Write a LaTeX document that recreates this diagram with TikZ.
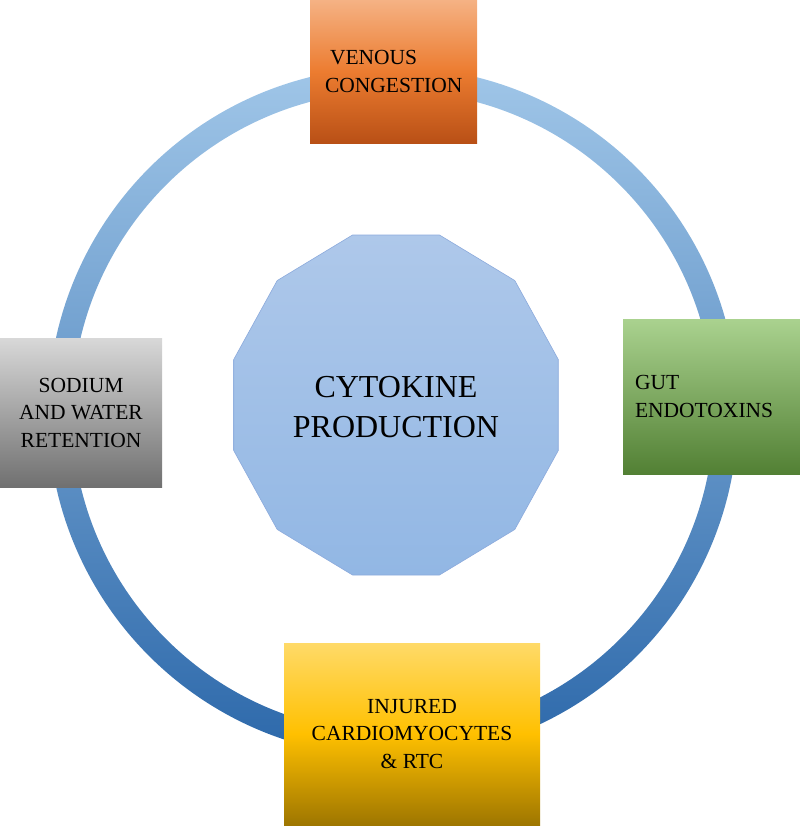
\documentclass[tikz,border=0pt]{standalone}
\usepackage{fontspec}
\setmainfont{Liberation Serif}
\definecolor{ringtop}{RGB}{160,198,232}
\definecolor{ringbot}{RGB}{44,104,170}
\definecolor{polytop}{RGB}{174,200,234}
\definecolor{polybot}{RGB}{146,183,228}
\definecolor{polyline}{RGB}{140,170,220}
\begin{document}
\begin{tikzpicture}[x=1pt,y=-1pt,
  box/.style={rectangle,inner sep=0pt,font=\fontsize{21.5}{27.5}\selectfont},
  core/.style={font=\fontsize{32}{40}\selectfont,align=center}]
\useasboundingbox (0,0) rectangle (800,828);
\shade[top color=ringtop,bottom color=ringbot,even odd rule]
  (393,412) circle[radius=345pt] (393,412) circle[radius=321pt];
\shade[top color=polytop,bottom color=polybot,draw=polyline,line width=0.6pt]
  plot[samples at={15,45,...,345}] ({396+168*cos(\x)},{405+176*sin(\x)}) -- cycle;
\node[core] (cytokine) at (396,407) {CYTOKINE\\PRODUCTION};
\node[box,minimum width=167pt,minimum height=143pt,text width=137pt,align=left,
  top color={rgb,255:red,245;green,178;blue,132},bottom color={rgb,255:red,185;green,80;blue,22},
  middle color={rgb,255:red,236;green,124;blue,48}] (venous) at (393.5,71.5)
  {\hspace*{5pt}VENOUS\\CONGESTION};
\node[box,minimum width=162pt,minimum height=149pt,align=center,
  top color={rgb,255:red,216;green,216;blue,216},bottom color={rgb,255:red,112;green,112;blue,112}] (sodium) at (81,412.5)
  {SODIUM\\AND WATER\\RETENTION};
\node[box,minimum width=177pt,minimum height=155pt,text width=153pt,align=left,
  top color={rgb,255:red,170;green,210;blue,143},bottom color={rgb,255:red,82;green,128;blue,52}] (gut) at (711.5,396.5)
  {GUT\\ENDOTOXINS};
\node[box,minimum width=256pt,minimum height=182pt,align=center,
  top color={rgb,255:red,255;green,218;blue,104},bottom color={rgb,255:red,158;green,118;blue,0},
  middle color={rgb,255:red,255;green,192;blue,0}] (injured) at (412,734)
  {INJURED\\CARDIOMYOCYTES\\\& RTC};
\end{tikzpicture}
\end{document}
